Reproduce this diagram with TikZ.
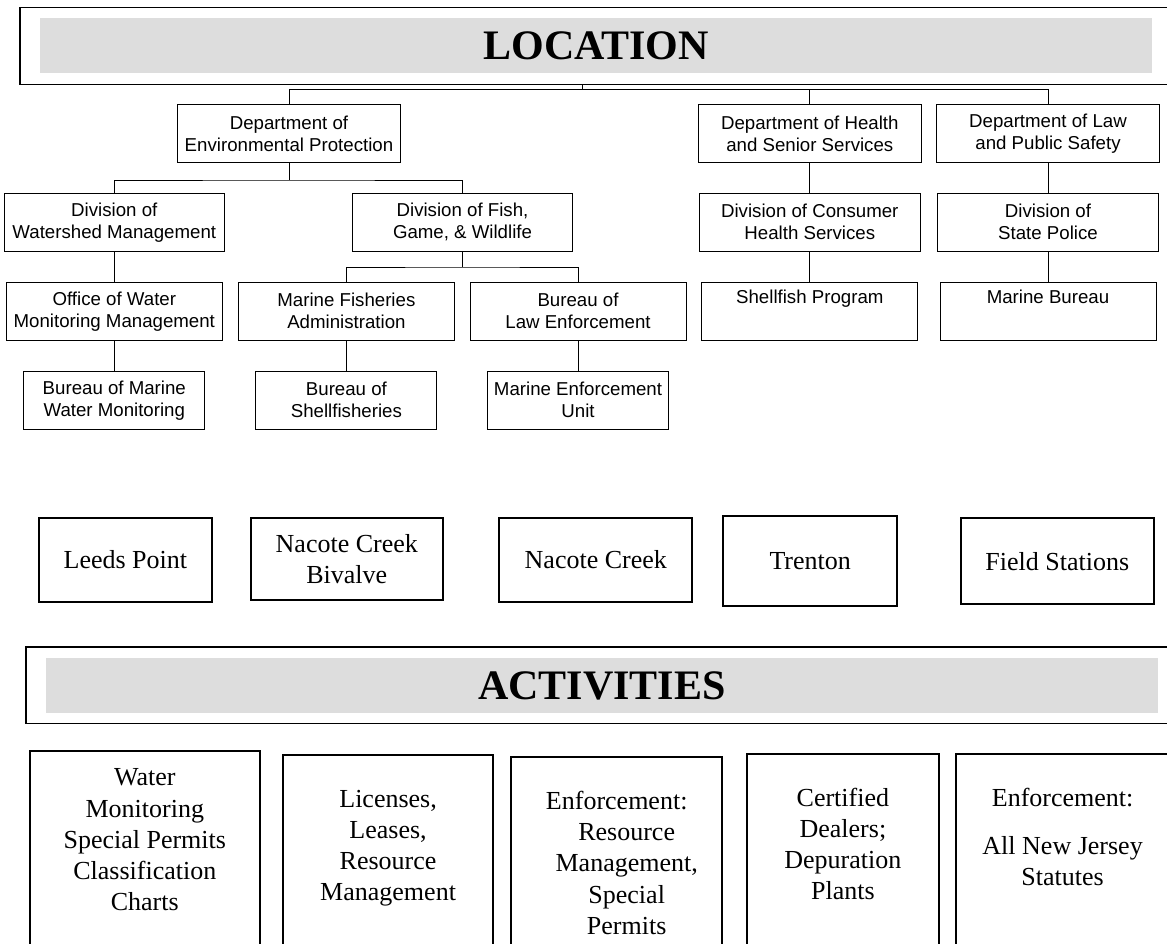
\documentclass[tikz,border=0pt]{standalone}
\usepackage{fontspec}
\setmainfont{Liberation Serif}
\newfontfamily\orgfont{Liberation Sans}
\definecolor{bandgrey}{RGB}{221,221,221}

\tikzset{every picture/.style={line width=0.75pt}}
\tikzset{
  bandframe/.style={draw, line width=1.2pt, inner sep=0pt},
  greyband/.style={fill=bandgrey, inner sep=0pt, font=\bfseries\fontsize{31.5pt}{36pt}\selectfont},
  orgbox/.style={draw, inner sep=0.75pt, align=center, minimum height=43.6pt, font=\orgfont\fontsize{14pt}{16.5pt}\selectfont},
  sitebox/.style={draw, line width=1.5pt, inner sep=0.75pt, align=center, font=\fontsize{19.5pt}{23.6pt}\selectfont},
  actbox/.style={draw, line width=1.5pt, anchor=north, inner sep=0pt, minimum height=160pt},
  acttext/.style={inner sep=0pt, anchor=north, align=center, font=\fontsize{19.5pt}{23.3pt}\selectfont},
  link/.style={line width=0.75pt}
}

\begin{document}
\begin{tikzpicture}[x=0.75pt,y=0.75pt,yscale=-1,xscale=1]
\useasboundingbox (0,0) rectangle (1167,943);
\fill [white] (0,0) rectangle (1167,943);
\clip (0,0) rectangle (1167,943);

%Shape: Rectangle (location band)
\node [bandframe, minimum width=870pt, minimum height=57.75pt] (locband) at (600,45.8) {};
\node [greyband, minimum width=833.9pt, minimum height=41.25pt] (loctitle) at (596.1,45.8) {LOCATION};

% Department level
\node [orgbox, minimum width=167.6pt] (dep) at (289,133.5) {Department of\\Environmental Protection};
\node [orgbox, minimum width=167.6pt] (health) at (809.8,133.5) {Department of Health\\and Senior Services};
\node [orgbox, minimum width=167.6pt] (law) at (1048,133.5) {Department of Law\\and Public Safety};

% Division level
\node [orgbox, minimum width=165.4pt] (watershed) at (114.3,222.3) {Division of\\Watershed Management};
\node [orgbox, minimum width=165.4pt] (fish) at (462.5,222.3) {Division of Fish,\\Game, \& Wildlife};
\node [orgbox, minimum width=165.4pt] (consumer) at (809.8,222.3) {Division of Consumer\\Health Services};
\node [orgbox, minimum width=165.4pt] (police) at (1048,222.3) {Division of\\State Police};

% Office level
\node [orgbox, minimum width=162pt] (office) at (114.3,311.2) {Office of Water\\Monitoring Management};
\node [orgbox, minimum width=162pt] (marinefish) at (346.4,311.2) {Marine Fisheries\\Administration};
\node [orgbox, minimum width=162pt] (lawenf) at (578,311.2) {Bureau of\\Law Enforcement};
\node [orgbox, minimum width=162pt] (shellprog) at (809.8,311.2) {Shellfish Program\\\strut};
\node [orgbox, minimum width=162pt] (marinebur) at (1048,311.2) {Marine Bureau\\\strut};

% Bureau level
\node [orgbox, minimum width=135.75pt] (bmwm) at (114.3,400.2) {Bureau of Marine\\Water Monitoring};
\node [orgbox, minimum width=135.75pt] (shellfisheries) at (346.4,400.2) {Bureau of\\Shellfisheries};
\node [orgbox, minimum width=135.75pt] (meu) at (578,400.2) {Marine Enforcement\\Unit};

% Tree lines
\coordinate (bus) at (582,89.3);
\coordinate (depj) at (289,180);
\coordinate (fishj) at (462.5,267);
\draw [link] (bus |- locband.south) -- (bus);
\draw [link] (dep.north) |- (bus) -| (law.north);
\draw [link] (health.north) -- (health.north |- bus);
\draw [link] (dep.south) -- (depj);
\draw [link] (watershed.north) |- (depj) -| (fish.north);
\draw [link] (fish.south) -- (fishj);
\draw [link] (marinefish.north) |- (fishj) -| (lawenf.north);
\draw [link] (watershed.south) -- (office.north);
\draw [link] (office.south) -- (bmwm.north);
\draw [link] (marinefish.south) -- (shellfisheries.north);
\draw [link] (lawenf.south) -- (meu.north);
\draw [link] (health.south) -- (consumer.north);
\draw [link] (consumer.south) -- (shellprog.north);
\draw [link] (law.south) -- (police.north);
\draw [link] (police.south) -- (marinebur.north);

% Site boxes
\node [sitebox, minimum width=130pt, minimum height=62.5pt] (leeds) at (125.4,560) {Leeds Point};
\node [sitebox, minimum width=144pt, minimum height=61.7pt] (bivalve) at (346.8,558.9) {Nacote Creek\\Bivalve};
\node [sitebox, minimum width=144.6pt, minimum height=62.5pt] (nacote) at (595.8,560) {Nacote Creek};
\node [sitebox, minimum width=130.1pt, minimum height=67.7pt] (trenton) at (810.2,560.9) {Trenton};
\node [sitebox, minimum width=144.5pt, minimum height=64.3pt] (field) at (1057.3,561.2) {Field Stations};

%Shape: Rectangle (activities band)
\node [bandframe, minimum width=865.5pt, minimum height=57.45pt] (actband) at (603,685) {};
\node [greyband, minimum width=833.7pt, minimum height=41.7pt] (acttitle) at (601.9,685.5) {ACTIVITIES};

% Activity boxes
\node [actbox, minimum width=172.5pt] (act1) at (144.8,750) {};
\node [actbox, minimum width=158pt] (act2) at (388.1,754) {};
\node [actbox, minimum width=158pt] (act3) at (616.7,756) {};
\node [actbox, minimum width=144.6pt] (act4) at (842.9,753.3) {};
\node [actbox, minimum width=160pt] (act5) at (1062.6,753.3) {};

% Text Node
\node [acttext] (act1text) at (144.8,768.4) {Water\\Monitoring\\Special Permits\\Classification\\Charts};
% Text Node
\node [acttext] (act2text) at (388.1,790) {Licenses,\\Leases,\\Resource\\Management};
% Text Node
\node [acttext] (act3text) at (616.7,791) {Enforcement:\\\hspace*{15pt}Resource\\\hspace*{15pt}Management,\\\hspace*{15pt}Special\\\hspace*{15pt}Permits};
% Text Node
\node [acttext] (act4text) at (842.9,787.5) {Certified\\Dealers;\\Depuration\\Plants};
% Text Node
\node [acttext] (act5text) at (1062.6,787.5) {Enforcement:\\[12.75pt]All New Jersey\\Statutes};

\end{tikzpicture}
\end{document}
